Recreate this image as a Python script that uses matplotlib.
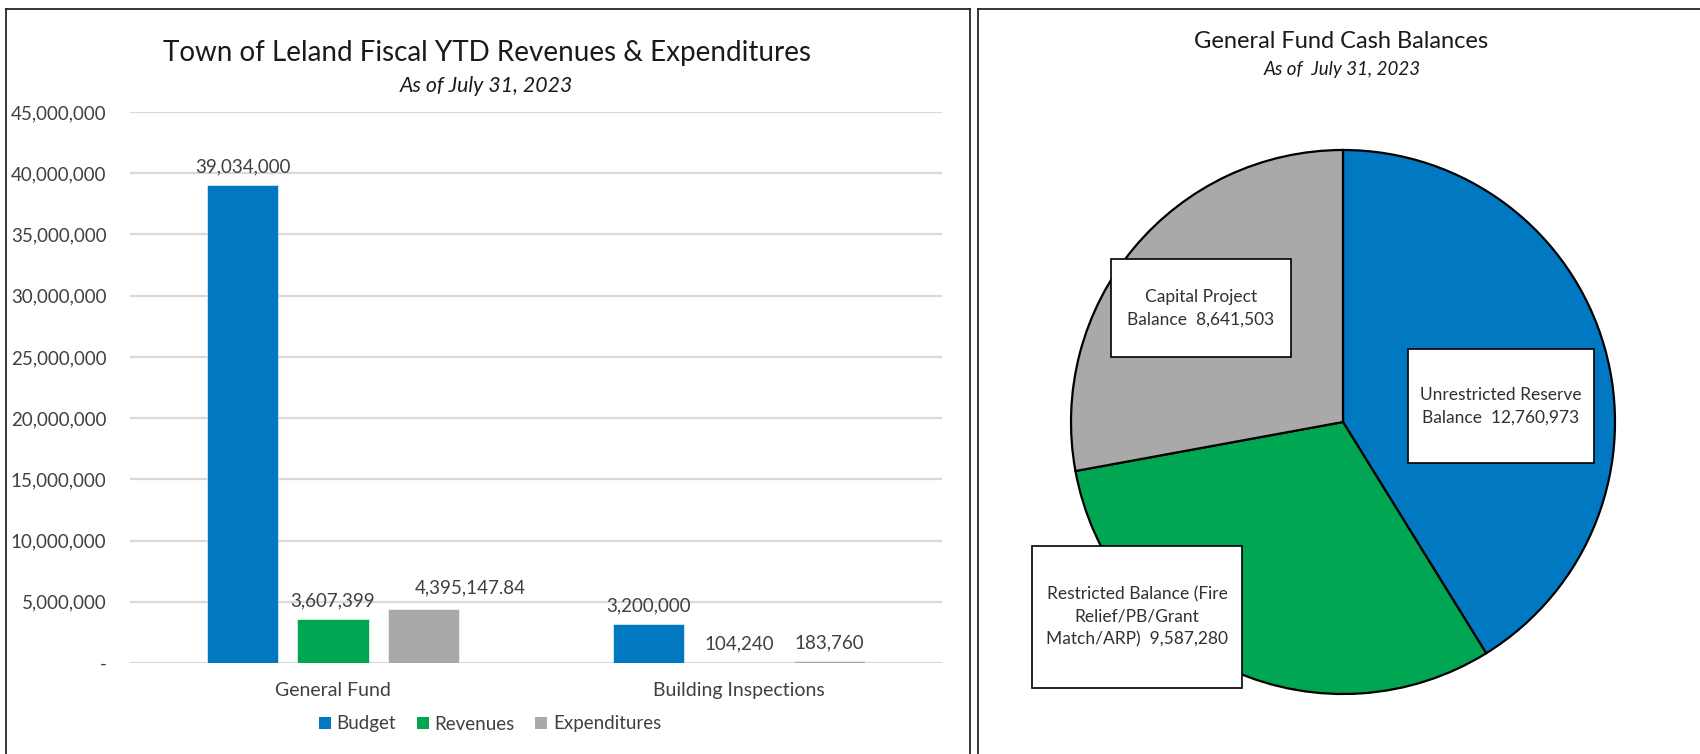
import matplotlib
matplotlib.use("Agg")
import matplotlib.pyplot as plt
from matplotlib.lines import Line2D
from matplotlib.patches import Rectangle, Patch
import numpy as np

plt.rcParams['font.family'] = ['Lato', 'DejaVu Sans']

# ---------------- data ----------------
categories = ["General Fund", "Building Inspections"]
series_names = ["Budget", "Revenues", "Expenditures"]
budget = [39034000, 3200000]
revenues = [3607399, 104240]
expenditures = [4395147.84, 183760]
yticks = [0, 5000000, 10000000, 15000000, 20000000, 25000000,
          30000000, 35000000, 40000000, 45000000]

pie_labels = ["Unrestricted Reserve\nBalance  12,760,973",
              "Restricted Balance (Fire\nRelief/PB/Grant\nMatch/ARP)  9,587,280",
              "Capital Project\nBalance  8,641,503"]
pie_values = [12760973, 9587280, 8641503]

colors = ["#0079C2", "#00A651", "#A9A9A9"]
txt = "#404040"

W, H = 1700, 754
fig = plt.figure(figsize=(W / 100, H / 100), dpi=100)

def fx(px):
    return px / W

def fy(py):
    return 1 - py / H

# ---------------- panel borders ----------------
bc = "#262626"
for (x0, y0, x1, y1) in [(6, 8.5, 970, 8.5), (6, 8.5, 6, 760), (970, 8.5, 970, 760),
                         (978, 8.5, 1710, 8.5), (978, 8.5, 978, 760)]:
    fig.add_artist(Line2D([fx(x0), fx(x1)], [fy(y0), fy(y1)], color=bc, lw=1.3,
                          transform=fig.transFigure))

# ---------------- bar chart ----------------
ax = fig.add_axes([fx(130), fy(663), fx(942) - fx(130), fy(112) - fy(663)])
x = np.arange(len(categories))
bw = 0.175
off = 0.222
series = [budget, revenues, expenditures]
# manual label nudges (points) as in the source chart: (series, category) -> (dx, dy)
nudges = {(2, 0): (34, 9)}
for i, (vals, c, name) in enumerate(zip(series, colors, series_names)):
    xs = x + (i - 1) * off
    ax.bar(xs, vals, width=bw, color=c, edgecolor="white", linewidth=0.4,
           label=name, zorder=3)
    for j, (xi, v) in enumerate(zip(xs, vals)):
        lab = f"{v:,.2f}" if v != int(v) else f"{int(v):,}"
        dx, dy = nudges.get((i, j), (0, 7))
        ax.annotate(lab, (xi, v), xytext=(dx, dy), textcoords="offset points",
                    ha="center", va="bottom", fontsize=13.5, color=txt)

ax.set_xlim(-0.5, 1.5)
ax.set_ylim(0, 45000000)
ax.set_yticks(yticks)
ax.set_yticklabels(["-" if t == 0 else f"{t:,}" for t in yticks])
ax.set_xticks(x)
ax.set_xticklabels(categories)
ax.tick_params(axis="y", length=0, pad=17, labelsize=13.5, labelcolor=txt)
ax.tick_params(axis="x", length=0, pad=14, labelsize=14, labelcolor=txt)
ax.grid(axis="y", color="#D9D9D9", linewidth=1.6, zorder=0)
ax.set_axisbelow(True)
for s in ax.spines.values():
    s.set_visible(False)

handles = [Patch(facecolor=c, label=n) for c, n in zip(colors, series_names)]
fig.legend(handles=handles, loc="center", bbox_to_anchor=(fx(490), fy(724)),
           ncol=3, frameon=False, fontsize=13.5, handlelength=0.65,
           handleheight=0.65, handletextpad=0.3, columnspacing=1.1,
           labelcolor=txt)

fig.text(fx(487), fy(53), "Town of Leland Fiscal YTD Revenues & Expenditures",
         ha="center", va="center", fontsize=20, color="#1a1a1a")
fig.text(fx(486), fy(86), "As of July 31, 2023", ha="center", va="center",
         fontsize=15.3, style="italic", color="#1a1a1a")

# ---------------- pie chart ----------------
r = 272
cx, cy = 1343, 422
ax2 = fig.add_axes([fx(cx - r), fy(cy + r), 2 * r / W, 2 * r / H])
ax2.pie(pie_values, colors=colors, startangle=90, counterclock=False, radius=1,
        wedgeprops=dict(edgecolor="black", linewidth=1.6))
ax2.set_xlim(-1, 1)
ax2.set_ylim(-1, 1)
ax2.set_aspect("equal")
ax2.axis("off")

# label boxes (centre x, centre y, width, height) in pie radius units
boxes = [(0.581, 0.059, 0.687, 0.419),
         (-0.757, -0.717, 0.772, 0.522),
         (-0.522, 0.419, 0.665, 0.357)]
for lab, (bx, by, bwid, bh) in zip(pie_labels, boxes):
    ax2.add_patch(Rectangle((bx - bwid / 2, by - bh / 2), bwid, bh, facecolor="white",
                            edgecolor="black", linewidth=1.2, zorder=5, clip_on=False))
    ax2.text(bx, by, lab, ha="center", va="center", fontsize=12.5, color="#303030",
             zorder=6, linespacing=1.5, clip_on=False)

fig.text(fx(1341), fy(41), "General Fund Cash Balances", ha="center", va="center",
         fontsize=17, color="#1a1a1a")
fig.text(fx(1342), fy(70), "As of  July 31, 2023", ha="center", va="center",
         fontsize=13.5, style="italic", color="#1a1a1a")

fig.savefig("out.png", dpi=100)
